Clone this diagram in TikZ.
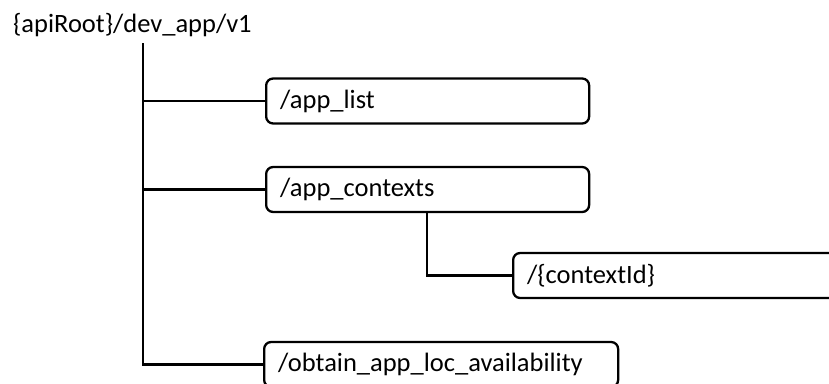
\documentclass[tikz,border=0pt]{standalone}
\usepackage{fontspec}
\setmainfont{Carlito}
\begin{document}
\begin{tikzpicture}[x=1pt,y=1pt,
  line width=2.3pt,
  res/.style={draw, rounded corners=7pt, minimum height=45pt, inner xsep=14pt, inner ysep=0pt,
    align=left, font=\fontsize{26.5}{30}\selectfont, anchor=west},
  conn/.style={line width=2.3pt}]
\useasboundingbox (0,0) rectangle (829,-383);
\clip (0,0) rectangle (829,-383);
\node[anchor=base west, inner sep=0pt, font=\fontsize{26.5}{30}\selectfont] (root) at (12,-32) {\{apiRoot\}/dev\_app/v1};
\coordinate (trunk) at (143,-43);
\coordinate (ctxdrop) at (427,-200);
\node[res, text width=295pt] (applist) at (265,-101) {/app\_list};
\node[res, text width=295pt] (appctx) at (265,-189.5) {/app\_contexts};
\node[res, text width=372pt] (ctxid) at (512,-275.5) {/\{contextId\}};
\node[res, text width=326pt] (obtain) at (263,-364.5) {/obtain\_app\_loc\_availability};
\draw[conn] (trunk) |- (obtain.west);
\draw[conn] (trunk |- applist.west) -- (applist.west);
\draw[conn] (trunk |- appctx.west) -- (appctx.west);
\draw[conn] (ctxdrop |- appctx.south) |- (ctxid.west);
\end{tikzpicture}
\end{document}
